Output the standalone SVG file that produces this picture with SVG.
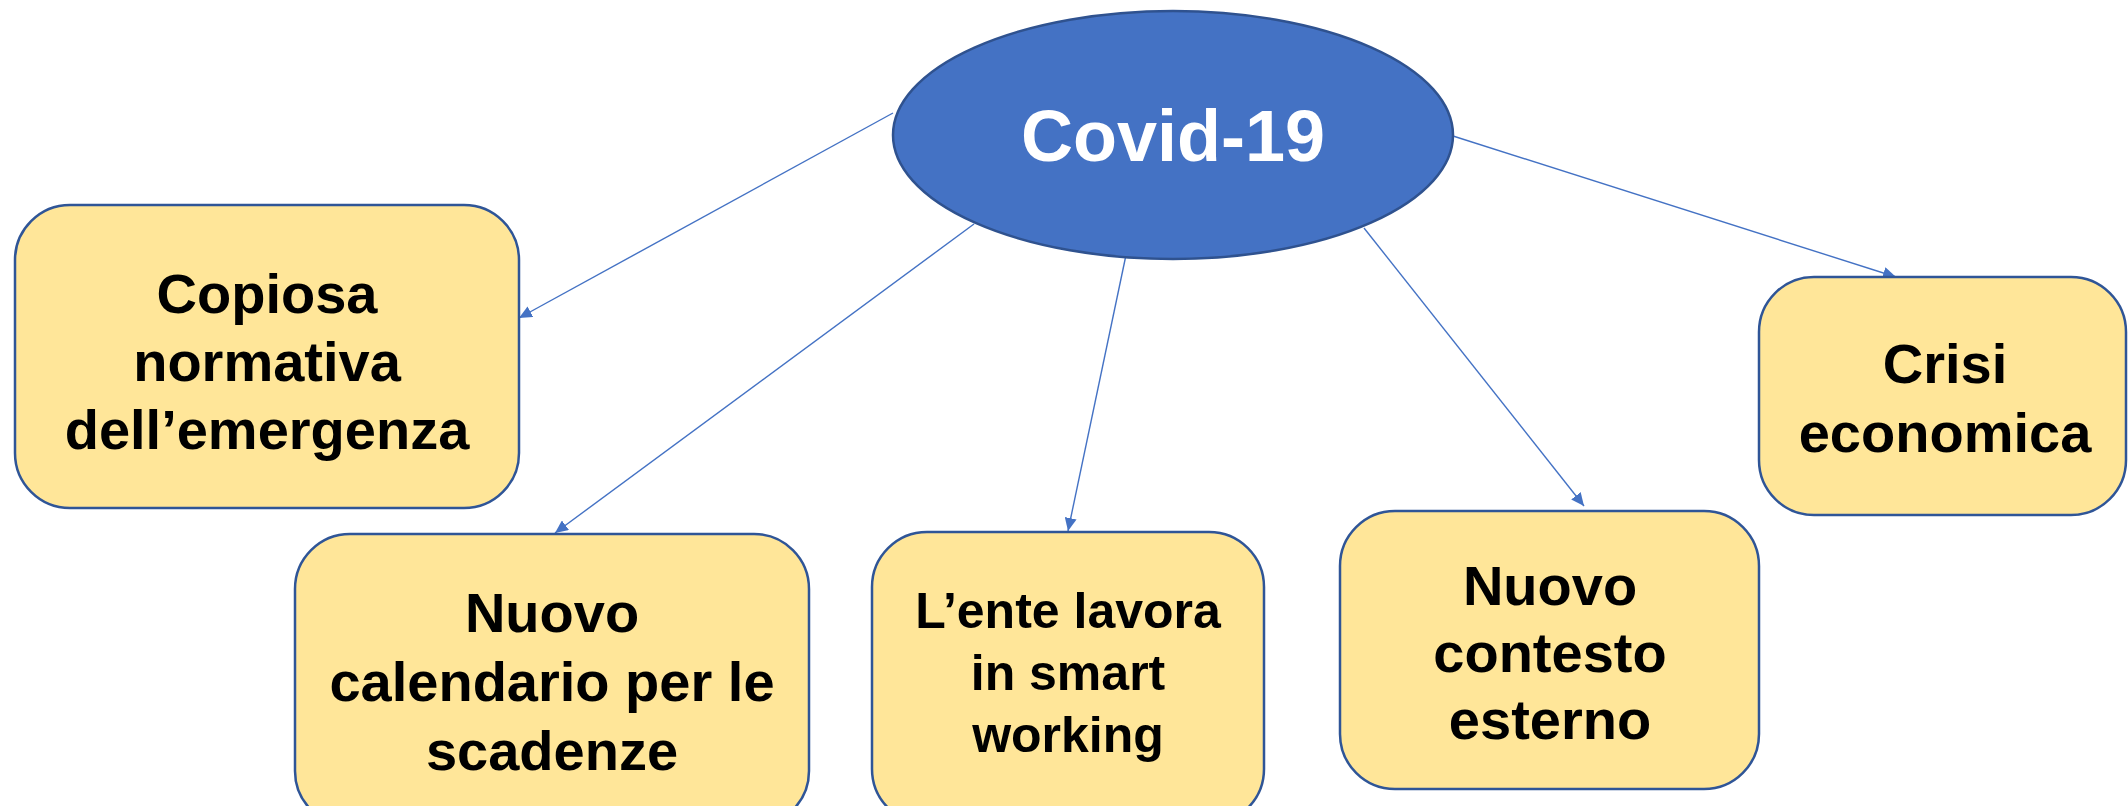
<svg xmlns="http://www.w3.org/2000/svg" width="2128" height="806" viewBox="0 0 2128 806">
<defs>
<style>
.box{fill:#FFE699;stroke:#2F5597;stroke-width:2.5}
.t{font-family:"Liberation Sans",Arial,sans-serif;font-weight:bold;fill:#000;text-anchor:middle}
.c{stroke:#4472C4;stroke-width:1.4;fill:none;marker-end:url(#ah)}
</style>
<marker id="ah" markerUnits="userSpaceOnUse" markerWidth="14" markerHeight="12" refX="13" refY="6" orient="auto">
<path d="M0,0 L13,6 L0,12 z" fill="#4472C4"/>
</marker>
</defs>
<rect width="2128" height="806" fill="#fff"/>
<g id="connectors">
<line class="c" x1="893" y1="113" x2="519" y2="318"/>
<line class="c" x1="974" y1="224" x2="555" y2="533"/>
<line class="c" x1="1126" y1="255" x2="1068" y2="531"/>
<line class="c" x1="1364" y1="228" x2="1584" y2="506"/>
<line class="c" x1="1453" y1="136" x2="1896" y2="277"/>
</g>
<g id="covid">
<ellipse cx="1173" cy="135" rx="280" ry="124" fill="#4472C4" stroke="#2F528F" stroke-width="2.5"/>
<text class="t" x="1173" y="161" font-size="72" fill="#fff" style="fill:#fff">Covid-19</text>
</g>
<g id="copiosa">
<rect class="box" x="15" y="205" width="504" height="303" rx="55"/>
<text class="t" x="267" y="313" font-size="56">Copiosa</text>
<text class="t" x="267" y="381" font-size="56">normativa</text>
<text class="t" x="267" y="449" font-size="56">dell’emergenza</text>
</g>
<g id="calendario">
<rect class="box" x="295" y="534" width="514" height="292" rx="55"/>
<text class="t" x="552" y="632" font-size="56">Nuovo</text>
<text class="t" x="552" y="701" font-size="56">calendario per le</text>
<text class="t" x="552" y="770" font-size="56">scadenze</text>
</g>
<g id="smartworking">
<rect class="box" x="872" y="532" width="392" height="292" rx="55"/>
<text class="t" x="1068" y="628" font-size="50">L’ente lavora</text>
<text class="t" x="1068" y="690" font-size="50">in smart</text>
<text class="t" x="1068" y="752" font-size="50">working</text>
</g>
<g id="contesto">
<rect class="box" x="1340" y="511" width="419" height="278" rx="55"/>
<text class="t" x="1550" y="605" font-size="56">Nuovo</text>
<text class="t" x="1550" y="672" font-size="56">contesto</text>
<text class="t" x="1550" y="739" font-size="56">esterno</text>
</g>
<g id="crisi">
<rect class="box" x="1759" y="277" width="367" height="238" rx="55"/>
<text class="t" x="1945" y="383" font-size="56">Crisi</text>
<text class="t" x="1945" y="452" font-size="56">economica</text>
</g>
</svg>
